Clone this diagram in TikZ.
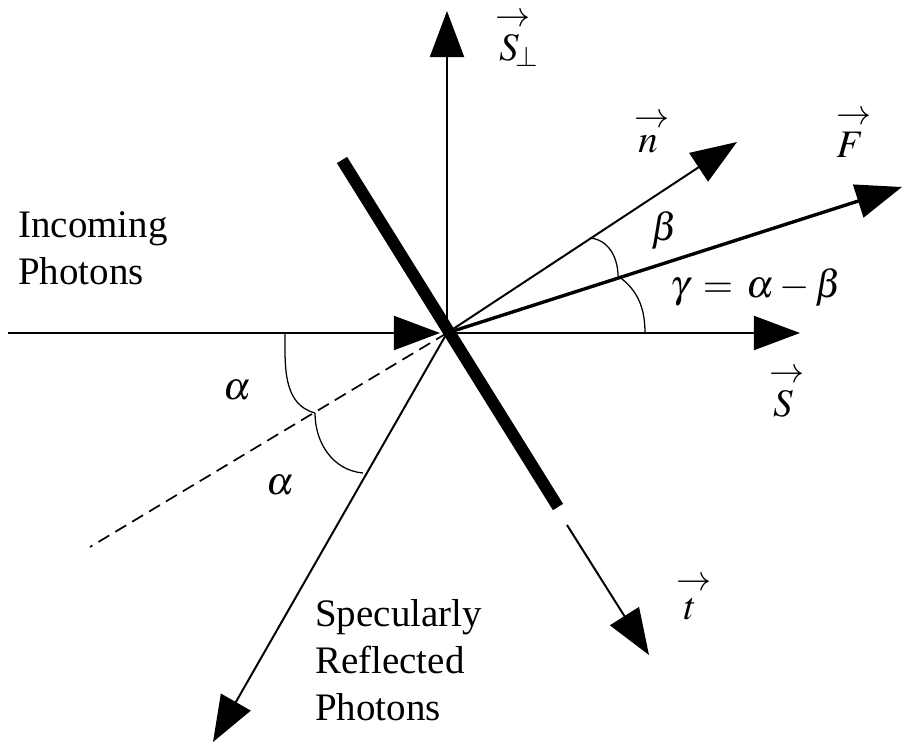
\documentclass[tikz,border=0pt]{standalone}
\usepackage{amsmath}
\usepackage{mathptmx}
\usepackage{fontspec}
\setmainfont{Liberation Serif}
\usetikzlibrary{arrows.meta,calc}
\newcommand{\va}[1]{\overset{\kern0.2em\scalebox{0.9}{$\rightarrow$}}{#1}}
\tikzset{
    vector/.style={
        line width=1.4pt,
        -{Triangle[length=1.15cm,width=0.85cm]}
    },
    force/.style={
        vector,
        line width=2.4pt
    },
    plate/.style={
        line width=8.5pt
    },
    normalline/.style={
        line width=1.2pt,
        dash pattern=on 9pt off 5pt
    },
    anglearc/.style={
        line width=0.9pt
    },
    lbl/.style={
        font=\fontsize{27.7}{33.4}\selectfont,
        inner sep=0pt
    }
}

\begin{document}
\begin{tikzpicture}[x=0.025cm,y=0.025cm]
    \useasboundingbox (-447,-411) rectangle (473,333);

    % Points
    \coordinate (O) at (0,0);
    \coordinate (in) at (-439,0);
    \coordinate (intip) at (-7,0);
    \coordinate (sperp) at (0,322);
    \coordinate (s) at (353,0);
    \coordinate (n) at (290,191);
    \coordinate (f) at (455,146);
    \coordinate (refl) at (-234,-409);
    \coordinate (dash) at (-357,-214);
    \coordinate (platetop) at (-105,173);
    \coordinate (platebot) at (111,-174);
    \coordinate (tstart) at (120,-192);
    \coordinate (t) at (202,-322);

    % Sail plate
    \draw[plate] (platetop) -- (platebot);

    % Photons and axes
    \draw[vector] (in) -- (intip);
    \draw[vector] (O) -- (sperp);
    \draw[vector] (O) -- (s);
    \draw[vector] (O) -- (n);
    \draw[force] (O) -- (f);
    \draw[vector] (O) -- (refl);
    \draw[vector] (tstart) -- (t);
    \draw[normalline] (O) -- (dash);

    % Angles
    \coordinate (nb) at (143,95);
    \coordinate (fb) at (171,57);
    \coordinate (sg) at (198,0);
    \coordinate (ia) at (-162,0);
    \coordinate (da) at (-132,-80);
    \coordinate (ra) at (-84,-140);
    \draw[anglearc] (nb) to[out=-5,in=90] (fb);
    \draw[anglearc] (fb) to[out=-35,in=90] (sg);
    \draw[anglearc] (ia) to[out=-90,in=165] (da);
    \draw[anglearc] (da) to[out=-90,in=175] (ra);

    % Labels
    \node[lbl] (sperplbl) at (66,295) {$\va{S}\mkern-7mu_{\perp}$};
    \node[lbl] (nlbl) at (201,201) {$\va{n}$};
    \node[lbl] (flbl) at (403,200) {$\va{F}$};
    \node[lbl] (slbl) at (336,-58) {$\va{S}$};
    \node[lbl] (tlbl) at (243,-264) {$\va{t}$};
    \node[lbl] (beta) at (218,103) {$\beta$};
    \node[lbl] (gamma) at (309,46) {$\gamma\,=\,\alpha-\beta$};
    \node[lbl] (alpha1) at (-210,-57) {$\alpha$};
    \node[lbl] (alpha2) at (-167,-152) {$\alpha$};
    \node[lbl,align=left,anchor=west] (incoming) at (-429,85) {Incoming\\Photons};
    \node[lbl,align=left,anchor=west] (reflected) at (-132,-327) {Specularly\\Reflected\\Photons};
\end{tikzpicture}
\end{document}
